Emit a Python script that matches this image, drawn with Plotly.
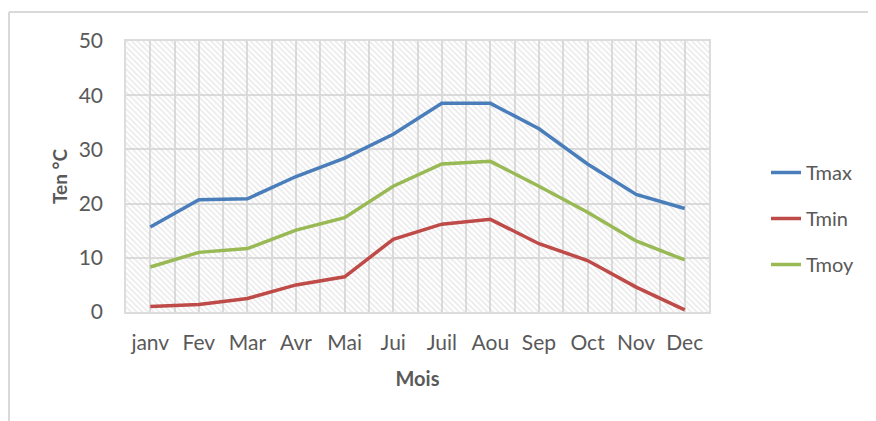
import plotly.graph_objects as go

months = ["janv", "Fev", "Mar", "Avr", "Mai", "Jui", "Juil", "Aou", "Sep", "Oct", "Nov", "Dec"]
tmax = [15.7, 20.7, 20.9, 25.0, 28.4, 32.8, 38.5, 38.5, 33.8, 27.3, 21.7, 19.1]
tmin = [1.0, 1.4, 2.5, 5.0, 6.5, 13.4, 16.2, 17.1, 12.6, 9.5, 4.6, 0.4]
tmoy = [8.3, 11.0, 11.7, 15.1, 17.4, 23.2, 27.3, 27.8, 23.2, 18.4, 13.1, 9.6]
y_max = 50

idx = list(range(len(months)))
TXT = "#595959"
GRID = "#dcdcdc"
FONT = "Lato, Liberation Sans, sans-serif"

fig = go.Figure()

# hatched plot-area background
fig.add_trace(go.Bar(
    x=idx, y=[y_max] * len(months), width=1.0,
    marker=dict(color="rgba(0,0,0,0)", line=dict(width=0),
                pattern=dict(shape="\\", fgcolor="#cfcfcf", bgcolor="rgba(0,0,0,0)",
                             size=4, solidity=0.35)),
    showlegend=False, hoverinfo="skip"))

series = [("Tmax", tmax, "#4a7ebb"), ("Tmin", tmin, "#be4b48"), ("Tmoy", tmoy, "#98b954")]
for name, vals, col in series:
    fig.add_trace(go.Scatter(x=idx, y=vals, mode="lines", name=name, legendgroup=name,
                             line=dict(color=col, width=3.5)))

# page body adds an 8px offset, so the figure is 8px smaller than the window
W, H = 868, 413
L, R, T, B = 118, 167, 33, 109
pw, ph = W - L - R, H - T - B

bx0, by1 = (1 - L) / pw, (H - B - 4) / ph
bx1, by0 = (W + 10 - L) / pw, -(B + 10) / ph
border = dict(color="#d9d9d9", width=2)

fig.update_layout(
    width=W, height=H,
    margin=dict(l=L, r=R, t=T, b=B, autoexpand=False),
    paper_bgcolor="white", plot_bgcolor="white",
    font=dict(family=FONT, color=TXT, size=21),
    bargap=0,
    legend=dict(x=(758 - L) / pw, xanchor="left", y=(H - B - 145) / ph, yanchor="top",
                font=dict(size=20, color=TXT), tracegroupgap=17, itemwidth=30,
                bgcolor="rgba(0,0,0,0)"),
    xaxis=dict(range=[-0.5, len(months) - 0.5], tickmode="array", tickvals=idx, ticktext=months,
               showgrid=True, gridcolor=GRID, gridwidth=1.5, zeroline=False,
               minor=dict(tickmode="array", tickvals=[i - 0.5 for i in range(len(months) + 1)],
                          showgrid=True, gridcolor=GRID, gridwidth=1.5),
               showline=True, linecolor=GRID, linewidth=1.5, mirror=True,
               ticks="", ticklabelstandoff=11,
               title=dict(text="<b>Mois</b>", font=dict(size=20, color=TXT), standoff=19)),
    yaxis=dict(range=[0, y_max], dtick=10, showgrid=True, gridcolor=GRID, gridwidth=1.5,
               zeroline=False, showline=True, linecolor=GRID, linewidth=1.5, mirror=True,
               ticks="", ticklabelstandoff=17,
               title=dict(text="<b>Ten °C</b>", font=dict(size=19, color=TXT), standoff=6)),
    shapes=[
        dict(type="line", xref="paper", yref="paper", x0=bx0, x1=bx1, y0=by1, y1=by1,
             line=border, layer="below"),
        dict(type="line", xref="paper", yref="paper", x0=bx0, x1=bx0, y0=by0, y1=by1,
             line=border, layer="below"),
    ],
)

fig.write_html("out.html")
